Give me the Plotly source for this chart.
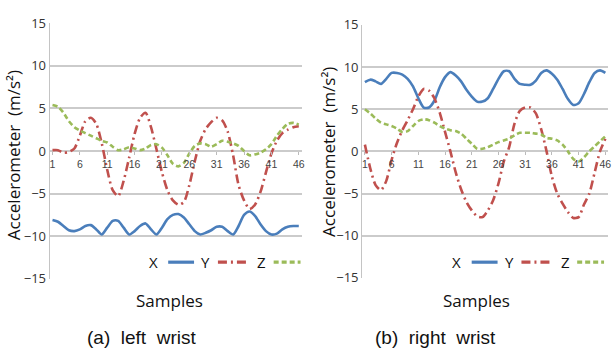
import plotly.graph_objects as go

samples = list(range(1, 47))
x_ticks = [1, 6, 11, 16, 21, 26, 31, 36, 41, 46]
y_ticks = [-15, -10, -5, 0, 5, 10, 15]

left_x = [-8.1, -8.3, -8.8, -9.3, -9.4, -9.2, -8.8, -8.7, -9.2, -9.8,
          -9.0, -8.2, -8.2, -9.0, -9.8, -9.4, -8.8, -8.5, -9.2, -9.8,
          -9.0, -8.0, -7.5, -7.4, -7.8, -8.6, -9.4, -9.8, -9.6, -9.3,
          -8.9, -8.9, -9.4, -9.8, -8.8, -7.5, -7.1, -7.6, -8.6, -9.4,
          -9.8, -9.7, -9.2, -8.9, -8.8, -8.8]
left_y = [0.1, 0.1, -0.2, -0.1, 0.3, 1.8, 3.5, 3.9, 3.2, 0.9,
          -2.2, -4.6, -5.3, -3.5, -0.8, 2.0, 3.9, 4.5, 2.8, 0.2,
          -2.5, -4.6, -5.8, -6.3, -6.0, -4.0, -1.2, 1.2, 2.6, 3.4,
          3.9, 3.6, 2.3, -0.5, -4.0, -5.8, -6.8, -6.3, -4.8, -2.5,
          -0.3, 1.2, 2.1, 2.5, 2.8, 2.9]
left_z = [5.4, 5.2, 4.5, 3.5, 2.8, 2.4, 2.1, 1.8, 1.5, 1.2,
          1.0, 0.5, 0.1, 0.2, 0.45, 0.3, 0.1, 0.3, 0.7, 0.8,
          0.4, -0.5, -1.5, -1.8, -1.4, -0.3, 0.6, 0.9, 0.8, 0.5,
          0.8, 1.2, 1.1, 0.9, 0.6, 0.0, -0.5, -0.4, -0.2, 0.2,
          0.8, 1.8, 2.6, 3.2, 3.3, 3.1]

right_x = [8.2, 8.5, 8.3, 8.0, 8.6, 9.3, 9.3, 9.1, 8.6, 7.7,
           6.3, 5.2, 5.2, 6.0, 7.6, 8.8, 9.4, 9.0, 8.3, 7.3,
           6.5, 5.9, 5.9, 6.3, 7.4, 8.6, 9.5, 9.5, 8.6, 8.0,
           7.9, 7.9, 8.4, 9.3, 9.6, 9.2, 8.5, 7.4, 6.2, 5.5,
           5.7, 6.8, 8.2, 9.3, 9.6, 9.3]
right_y = [0.8, -2.0, -4.0, -4.6, -3.5, -1.0, 1.0, 2.5, 3.7, 5.0,
           6.5, 7.4, 7.2, 6.3, 4.6, 2.3, 0.0, -2.5, -4.5, -6.0,
           -7.0, -7.7, -7.8, -7.0, -5.8, -3.8, -1.2, 0.5, 3.3, 4.8,
           5.2, 5.2, 4.5, 2.6, 0.0, -3.0, -5.0, -6.2, -7.2, -7.9,
           -7.8, -6.3, -5.0, -2.5, 0.0, 1.5]
right_z = [5.0, 4.5, 3.9, 3.4, 3.2, 3.0, 2.7, 2.3, 2.4, 3.0,
           3.6, 3.8, 3.7, 3.4, 3.0, 2.7, 2.5, 2.4, 2.1, 1.5,
           0.9, 0.3, 0.3, 0.5, 0.8, 1.1, 1.3, 1.5, 1.9, 2.2,
           2.2, 2.2, 2.1, 2.0, 1.6, 1.5, 1.3, 0.8, 0.0, -0.9,
           -1.2, -0.7, 0.0, 0.6, 1.2, 1.8]

series_names = ["X", "Y", "Z"]
colors = {"X": "#4A7EBB", "Y": "#C0504D", "Z": "#9BBB59"}
dashes = {"X": "solid", "Y": "9px,4px,2px,4px", "Z": "5px,3px"}

W, H = 616, 360
GRID = "#CBCBCB"
FONT = "Open Sans, DejaVu Sans, sans-serif"
NARROW = "Liberation Sans Narrow, Liberation Sans, sans-serif"

# panel geometry in pixels: (x0, x1, ytop(15), ybottom(-15))
panels = [
    dict(x0=50, x1=303, yt=15, yb=284, data=[left_x, left_y, left_z]),
    dict(x0=364, x1=611, yt=16.7, yb=283, data=[right_x, right_y, right_z]),
]

fig = go.Figure()
layout = dict(width=W, height=H, margin=dict(l=0, r=0, t=0, b=0),
              paper_bgcolor="white", plot_bgcolor="white", showlegend=False,
              font=dict(family=FONT, color="#222"))
annotations = []
shapes = []


def ann(text, px, py, size, family=FONT, angle=0):
    return dict(text=text, x=px / W, y=1 - py / H, xref="paper", yref="paper",
                showarrow=False, textangle=angle, xanchor="center", yanchor="middle",
                font=dict(family=family, size=size, color="#111"))


for i, p in enumerate(panels):
    n = "" if i == 0 else str(i + 1)
    xa, ya = "x" + n, "y" + n
    for name, vals in zip(series_names, p["data"]):
        fig.add_trace(go.Scatter(
            x=samples, y=vals, mode="lines", name=name, xaxis=xa, yaxis=ya,
            line=dict(color=colors[name], width=2.6, dash=dashes[name],
                      shape="spline", smoothing=0.7)))
    dom_x = [p["x0"] / W, p["x1"] / W]
    dom_y = [1 - p["yb"] / H, 1 - p["yt"] / H]
    zero_pos = dom_y[0] + (dom_y[1] - dom_y[0]) * 0.5
    layout["xaxis" + n] = dict(
        domain=dom_x, range=[0.5, 46.5], anchor="free", position=zero_pos,
        tickvals=x_ticks, showgrid=False, zeroline=False, showline=False,
        ticks="outside", ticklen=3, tickcolor="#BBBBBB",
        tickfont=dict(family=NARROW, size=10.5, color="#444"))
    layout["yaxis" + n] = dict(
        domain=dom_y, range=[-15, 15], anchor=xa, tickvals=y_ticks,
        showgrid=True, gridcolor=GRID, gridwidth=1.6,
        zeroline=True, zerolinecolor=GRID, zerolinewidth=1.6,
        showline=True, linecolor="#C4C4C4", linewidth=1.2,
        ticks="", tickfont=dict(size=13, color="#333"))

# axis titles
for cx, cy in [(13, 154), (330, 150)]:
    annotations.append(ann("Accelerometer\u00a0 (m/s²)", cx, cy, 17, angle=-90))
for cx in [170, 479]:
    annotations.append(ann("Samples", cx, 307, 17))

captions = ["(a)\u00a0 left\u00a0 wrist", "(b)\u00a0 right\u00a0 wrist"]
for cx, txt in zip([142, 438], captions):
    annotations.append(ann(txt, cx, 346, 19, family=NARROW))

# legends: label followed by line sample
leg_layout = [
    dict(labels=[154, 207, 263], lines=[(169, 195), (219, 250), (275, 302)], y=266.5),
    dict(labels=[459, 512, 568], lines=[(474, 500), (524, 555), (580, 607)], y=266.5),
]
for lg in leg_layout:
    for name, lx, (a, b) in zip(series_names, lg["labels"], lg["lines"]):
        annotations.append(ann(name, lx, lg["y"], 15))
        shapes.append(dict(type="line", xref="paper", yref="paper", x0=a / W, x1=b / W,
                           y0=1 - lg["y"] / H, y1=1 - lg["y"] / H,
                           line=dict(color=colors[name], width=3.2, dash=dashes[name])))

layout["annotations"] = annotations
layout["shapes"] = shapes
fig.update_layout(**layout)
fig.write_html("out.html", config={"displayModeBar": False},
               post_script="document.body.style.margin='0';document.body.style.overflow='hidden';")
